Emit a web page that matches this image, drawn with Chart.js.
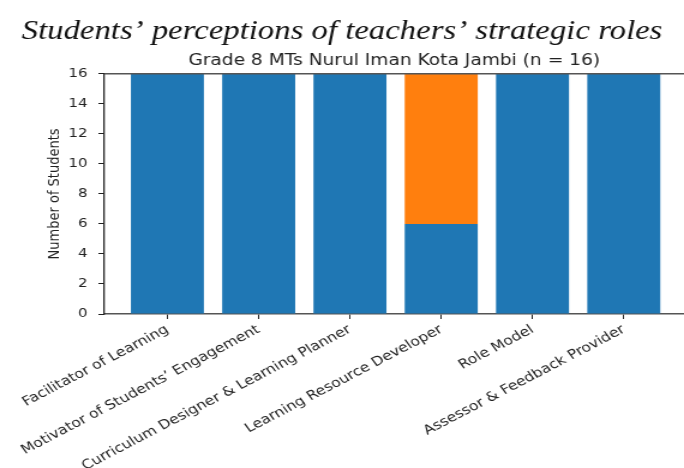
<!doctype html>
<html lang="en">
  <head>
    <meta charset="UTF-8" />
    <title>Students’ perceptions of teachers’ strategic roles</title>
    <script src="https://cdn.jsdelivr.net/npm/chart.js"></script>
    <style>
      body { margin: 0; background: #fff; overflow: hidden; }
      #myChart { display: block; }
    </style>
  </head>
  <body>
    <!-- the reference figure is stretched sideways by about 1.2, so draw at 570 and show at 684 -->
    <canvas id="myChart" width="570" height="468" style="width: 684px; height: 468px"></canvas>
    <script>
      const roles = [
        'Facilitator of Learning',
        'Motivator of Students’ Engagement',
        'Curriculum Designer & Learning Planner',
        'Learning Resource Developer',
        'Role Model',
        'Assessor & Feedback Provider'
      ]
      const yesCounts = [16, 16, 16, 6, 16, 16]
      const noCounts = [0, 0, 0, 10, 0, 0]
      const yMax = 16
      const yStep = 2

      const toPoints = (arr) => arr.map((v, i) => ({ x: i, y: v }))

      // top spine, like matplotlib's box
      const topLine = {
        id: 'topLine',
        afterDraw(chart) {
          const { ctx, chartArea } = chart
          ctx.save()
          ctx.strokeStyle = '#555'
          ctx.lineWidth = 1.5
          ctx.beginPath()
          ctx.moveTo(chartArea.left, chartArea.top)
          ctx.lineTo(chartArea.right, chartArea.top)
          ctx.stroke()
          ctx.restore()
        }
      }

      const ctx = document.getElementById('myChart').getContext('2d')
      new Chart(ctx, {
        type: 'bar',
        data: {
          datasets: [
            {
              label: 'Yes',
              data: toPoints(yesCounts),
              backgroundColor: '#1f77b4',
              borderWidth: 0,
              barPercentage: 0.8,
              categoryPercentage: 1
            },
            {
              label: 'No',
              data: toPoints(noCounts),
              backgroundColor: '#ff7f0e',
              borderWidth: 0,
              barPercentage: 0.8,
              categoryPercentage: 1
            }
          ]
        },
        plugins: [topLine],
        options: {
          responsive: false,
          animation: false,
          devicePixelRatio: 1,
          layout: { padding: 0 },
          plugins: {
            legend: { display: false },
            tooltip: { enabled: false },
            title: {
              display: true,
              text: 'Students’ perceptions of teachers’ strategic roles',
              color: '#111',
              font: { family: '"Liberation Serif", serif', style: 'italic', size: 27.3, weight: 'normal' },
              padding: { top: 15, bottom: 0.5 }
            },
            subtitle: {
              display: true,
              fullSize: false,
              text: 'Grade 8 MTs Nurul Iman Kota Jambi (n = 16)',
              color: '#222',
              font: { family: '"DejaVu Sans"', size: 15.5 },
              padding: { top: 3, bottom: 4 }
            }
          },
          scales: {
            x: {
              type: 'linear',
              stacked: true,
              offset: false,
              min: -0.69,
              max: 5.66,
              afterBuildTicks: (axis) => {
                axis.ticks = axis.ticks.filter((t) => Number.isInteger(t.value))
              },
              afterFit: (axis) => {
                axis.height = 154
              },
              ticks: {
                stepSize: 1,
                autoSkip: false,
                minRotation: 32,
                maxRotation: 32,
                padding: 3,
                color: '#222',
                font: { family: '"DejaVu Sans"', size: 13 },
                callback: (value) => roles[value]
              },
              grid: { display: true, offset: false, drawOnChartArea: false, tickLength: 5, tickColor: '#222' },
              border: { color: '#555', width: 1.5 }
            },
            y: {
              stacked: true,
              min: 0,
              max: yMax,
              afterFit: (axis) => {
                axis.width = 87
              },
              ticks: {
                stepSize: yStep,
                padding: 9,
                color: '#222',
                font: { family: '"DejaVu Sans"', size: 12.5 }
              },
              title: {
                display: true,
                text: 'Number of Students',
                color: '#222',
                font: { family: '"DejaVu Sans"', size: 13 },
                padding: { top: 38, bottom: 0 }
              },
              grid: { display: true, drawOnChartArea: false, tickLength: 5, tickColor: '#222' },
              border: { color: '#222', width: 1.3 }
            }
          }
        }
      })
    </script>
  </body>
</html>
